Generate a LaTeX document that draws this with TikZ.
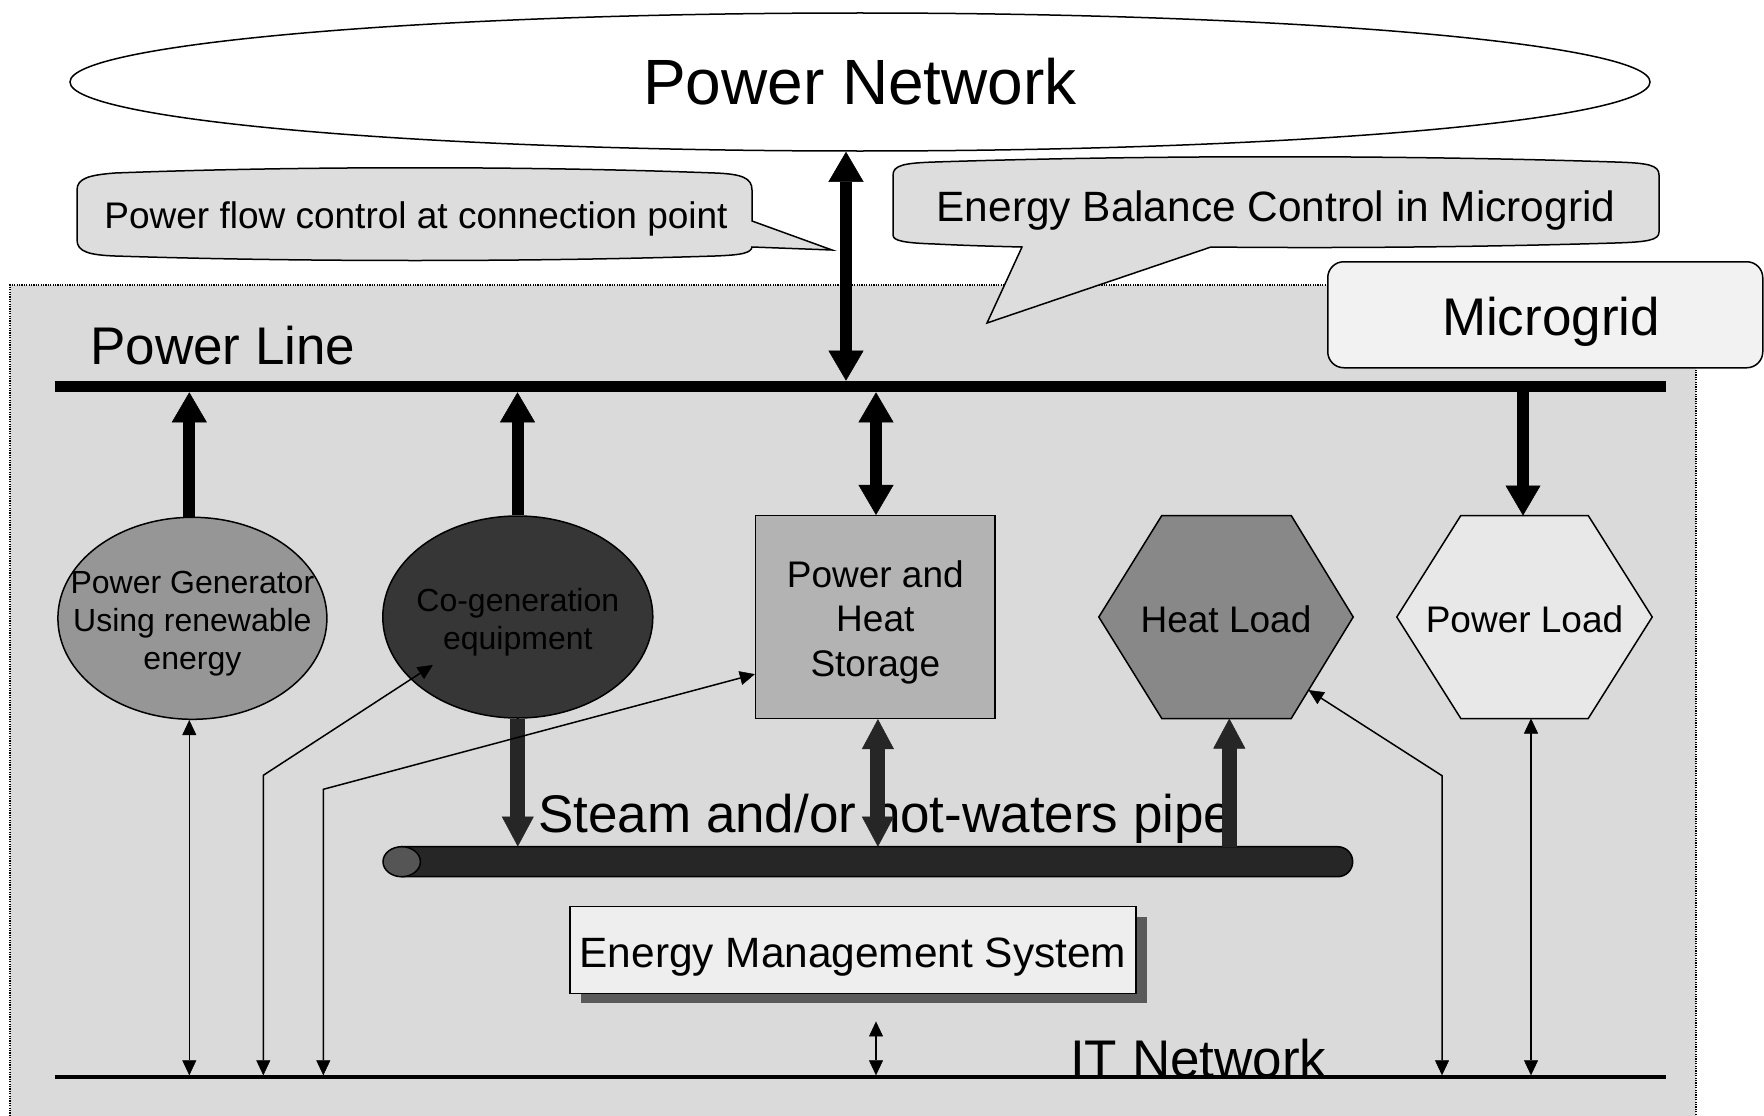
\documentclass[tikz,border=0pt]{standalone}
\usepackage{fontspec}
\setmainfont{Liberation Sans}
\usetikzlibrary{arrows.meta,shapes.geometric,calc,shadows}

\definecolor{regionbg}{HTML}{DADADA}
\definecolor{calloutbg}{HTML}{DDDDDD}
\definecolor{gridtag}{HTML}{F2F2F2}
\definecolor{genfill}{HTML}{969696}
\definecolor{cogenfill}{HTML}{363636}
\definecolor{storefill}{HTML}{B3B3B3}
\definecolor{heatfill}{HTML}{888888}
\definecolor{loadfill}{HTML}{E8E8E8}
\definecolor{pipedark}{HTML}{262626}
\definecolor{pipeend}{HTML}{555555}
\definecolor{emsfill}{HTML}{EEEEEE}
\definecolor{emsshadow}{HTML}{5A5A5A}

\tikzset{
  fHuge/.style={font=\fontsize{64}{77}\selectfont},
  fBig/.style={font=\fontsize{53}{64}\selectfont},
  fMid/.style={font=\fontsize{42.4}{51}\selectfont},
  fStd/.style={font=\fontsize{37}{44.5}\selectfont},
  fSmall/.style={font=\fontsize{32}{38}\selectfont},
  outline/.style={draw=black, line width=1.5pt},
  bus/.style={draw=black, line width=11.6pt, line cap=butt},
  itbus/.style={draw=black, line width=4pt, line cap=butt},
  hexbox/.style={rectangle, minimum height=202.6pt, inner sep=0pt},
  pwrtip/.tip={Triangle[width=35pt,length=30pt,line width=0.5pt]},
  heattip/.tip={Triangle[width=32pt,length=30pt,line width=0.5pt]},
  infotip/.tip={Triangle[width=14pt,length=15pt,line width=0.5pt]},
  pwr/.style={draw=black, line width=12pt, -pwrtip},
  pwrboth/.style={draw=black, line width=12pt, pwrtip-pwrtip},
  heatflow/.style={draw=pipedark, line width=15pt, -heattip},
  heatflowboth/.style={draw=pipedark, line width=15pt, heattip-heattip},
  info/.style={draw=black, line width=1.5pt, infotip-infotip},
}

\begin{document}
\begin{tikzpicture}[x=1pt, y=-1pt]
\useasboundingbox (0,0) rectangle (1764,1116);
\clip (0,0) rectangle (1764,1116);

% microgrid area
\fill[regionbg] (10,285) rectangle (1696,1140);
\draw[line width=1.3pt, dash pattern=on 1.2pt off 1.2pt]
  (10,1140) -- (10,285) -- (1696,285) -- (1696,1140);

% upstream grid
\node[ellipse, outline, fill=white, minimum width=1580pt, minimum height=138pt,
      inner sep=0pt, fHuge] (net) at (860,82) {Power Network};

% callout: power flow control
\coordinate (flow-tip) at (832,250);
\draw[outline, fill=calloutbg]
  (77,240) -- (77,190) .. controls (77,178) and (90,175) .. (115,173)
  .. controls (300,166) and (530,166) .. (715,173)
  .. controls (742,174) and (752,178) .. (752,190) -- (752,221) -- (flow-tip)
  -- (752,247) .. controls (751,253) and (742,255) .. (715,256)
  .. controls (530,262) and (300,262) .. (115,256)
  .. controls (90,255) and (77,252) .. (77,240) -- cycle;
\node[fStd, anchor=base, inner sep=0pt] (flow-t) at (416,228)
  {Power flow control at connection point};

% callout: energy balance
\coordinate (balance-tip) at (987,323);
\draw[outline, fill=calloutbg]
  (893,235) -- (893,175) .. controls (893,165) and (905,163) .. (935,162)
  .. controls (1150,155) and (1400,155) .. (1615,162)
  .. controls (1648,163) and (1659,165) .. (1659,175) -- (1659,232)
  .. controls (1659,240) and (1648,242) .. (1615,243)
  .. controls (1450,248) and (1300,248) .. (1211,247) -- (balance-tip)
  -- (1022,247) .. controls (980,246) and (955,245) .. (935,244)
  .. controls (905,243) and (893,241) .. (893,235) -- cycle;
\node[fMid, anchor=base, inner sep=0pt] (balance-t) at (1276,221)
  {Energy Balance Control in Microgrid};

% microgrid tag
\node[outline, fill=gridtag, rounded corners=16pt, minimum width=435pt,
      minimum height=106pt, inner sep=0pt, anchor=north west] (mg) at (1327,261) {};
\node[fBig, anchor=base, inner sep=0pt] (mg-t) at (1551,335) {Microgrid};

% power line
\coordinate (pl-w) at (55,386.5);
\coordinate (pl-e) at (1666,386.5);
\draw[bus] (pl-w) -- (pl-e);
\node[fBig, anchor=base west, inner sep=0pt] (pl-label) at (90,364) {Power Line};

\coordinate (pl-net) at (846,380.7);
\coordinate (pl-gen) at (189.3,392.3);
\coordinate (pl-cogen) at (517.5,392.3);
\coordinate (pl-store) at (876,392.3);
\coordinate (pl-pload) at (1523,392.3);

% equipment
\node[ellipse, outline, fill=genfill, minimum width=269pt, minimum height=202pt,
      inner sep=0pt] (gen) at (192.4,618.3) {};
\node[ellipse, outline, fill=cogenfill, minimum width=270pt, minimum height=202pt,
      inner sep=0pt] (cogen) at (517.8,617) {};
\node[rectangle, outline, fill=storefill, minimum width=239.4pt,
      minimum height=202.6pt, inner sep=0pt] (store) at (875.3,617) {};
\node[hexbox, minimum width=254pt] (heat) at (1226,617) {};
\node[hexbox, minimum width=255pt] (pload) at (1524.5,617) {};

\coordinate (heat-nw) at ($(heat.north west)+(63,0)$);
\coordinate (heat-ne) at ($(heat.north east)+(-62,0)$);
\coordinate (heat-se) at ($(heat.south east)+(-62,0)$);
\coordinate (heat-sw) at ($(heat.south west)+(63,0)$);
\draw[outline, fill=heatfill] (heat.west) -- (heat-nw) -- (heat-ne) -- (heat.east)
  -- (heat-se) -- (heat-sw) -- cycle;

\coordinate (pload-nw) at ($(pload.north west)+(64,0)$);
\coordinate (pload-ne) at ($(pload.north east)+(-64,0)$);
\coordinate (pload-se) at ($(pload.south east)+(-64,0)$);
\coordinate (pload-sw) at ($(pload.south west)+(64,0)$);
\draw[outline, fill=loadfill] (pload.west) -- (pload-nw) -- (pload-ne) -- (pload.east)
  -- (pload-se) -- (pload-sw) -- cycle;

\node[fSmall, align=center, inner sep=0pt] (gen-t) at ($(gen.center)+(0,5)$)
  {Power Generator\\Using renewable\\energy};
\node[fSmall, align=center, inner sep=0pt] (cogen-t) at ($(cogen.center)+(0,5)$)
  {Co-generation\\equipment};
\node[fStd, align=center, inner sep=0pt] (store-t) at ($(store.center)+(0,5)$)
  {Power and\\Heat\\Storage};
\node[fStd, anchor=base, inner sep=0pt] (heat-t) at ($(heat.center)+(0,15)$) {Heat Load};
\node[fStd, anchor=base, inner sep=0pt] (pload-t) at ($(pload.center)+(0,15)$) {Power Load};

% heat pipe
\node[fBig, anchor=base west, inner sep=0pt] (pipe-label) at (538,832)
  {Steam and/or hot-waters pipe};
\node[rectangle, minimum width=969.7pt, minimum height=30pt, inner sep=0pt]
  (pipe) at (867.9,861.7) {};
\coordinate (pipe-l) at (401.7,861.7);
\draw[outline, fill=pipedark] (401.7,846.7) -- (1337.7,846.7)
  arc[start angle=-90, end angle=90, radius=15] -- (401.7,876.7) -- cycle;
\draw[outline, fill=pipeend] (pipe-l) ellipse[x radius=18.7, y radius=15];
\coordinate (pipe-store) at (877.9,846.7);
\coordinate (pipe-heat) at (1229.3,846.7);

% energy management system
\node[rectangle, outline, fill=emsfill, minimum width=566pt, minimum height=86.6pt,
      inner sep=0pt, text height=40pt, text depth=6pt, fMid,
      drop shadow={shadow xshift=11pt, shadow yshift=-10pt, fill=emsshadow, opacity=1}]
  (ems) at (853,950) {Energy Management System};

% IT network
\coordinate (it-w) at (55,1077.3);
\coordinate (it-e) at (1666,1077.3);
\draw[itbus] (it-w) -- (it-e);
\node[fBig, anchor=base west, inner sep=0pt] (it-label) at (1070,1077) {IT Network};

\coordinate (it-gen) at (189.3,1075.3);
\coordinate (it-cogen) at (263.3,1075.3);
\coordinate (it-store) at (323.3,1075.3);
\coordinate (it-ems) at (876,1075.3);
\coordinate (it-heat) at (1442,1075.3);
\coordinate (it-pload) at (1531,1075.3);

% electric power flows
\draw[pwrboth] (pl-net |- net.south) -- (pl-net);
\draw[pwr] (pl-gen |- gen.north) -- (pl-gen);
\draw[pwr] (pl-cogen |- cogen.north) -- (pl-cogen);
\draw[pwrboth] (pl-store) -- (pl-store |- store.north);
\draw[pwr] (pl-pload) -- (pl-pload |- pload.north);

% heat flows
\draw[heatflow] (cogen.south) -- (cogen.south |- pipe.north);
\draw[heatflowboth] (store.south -| pipe-store) -- (pipe-store);
\draw[heatflow] (pipe-heat) -- (heat.south -| pipe-heat);

% information links
\coordinate (cogen-tap) at ($(cogen.center)+(-85,48)$);
\coordinate (store-tap) at ($(store.south west)!0.22!(store.north west)$);
\coordinate (heat-tap) at ($(heat-se)!0.28!(heat.east)$);
\draw[info] (gen.south -| it-gen) -- (it-gen);
\draw[info] (it-cogen) -- ++(0,-300) -- (cogen-tap);
\draw[info] (it-store) -- ++(0,-286) -- (store-tap);
\draw[info] (it-heat) -- ++(0,-299.6) -- (heat-tap);
\draw[info] (pload.south -| it-pload) -- (it-pload);
\draw[info] ($(ems.south -| it-ems)+(0,27.4)$) -- (it-ems);
\end{tikzpicture}
\end{document}
